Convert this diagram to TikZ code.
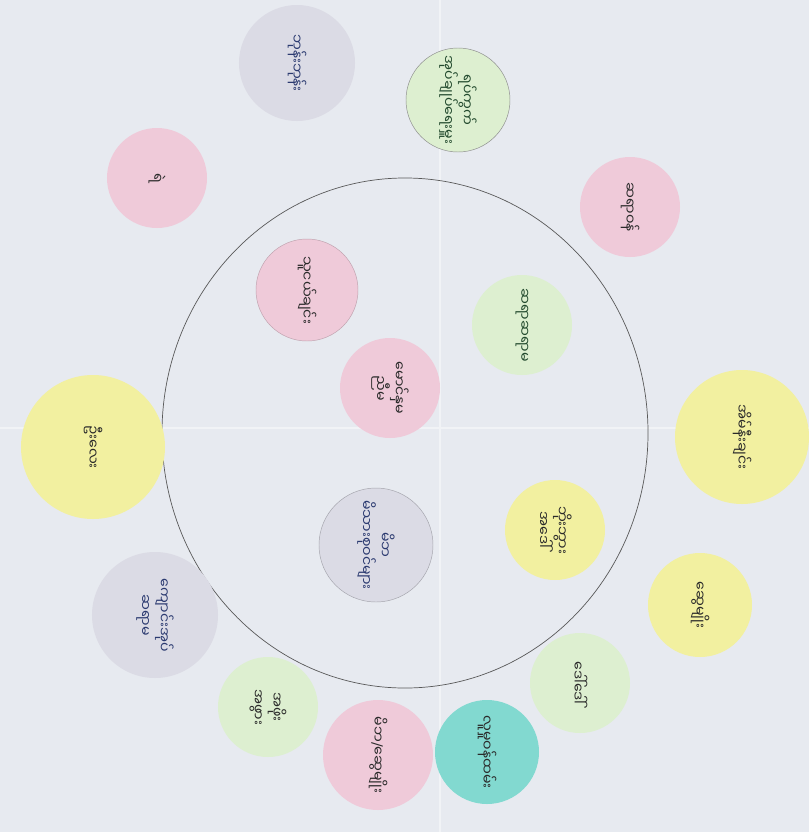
\documentclass[tikz,border=0pt]{standalone}
\usepackage{fontspec}
\newfontfamily\mya[Script=Myanmar]{Noto Sans Myanmar UI}
\newfontfamily\latn{DejaVu Sans}
\definecolor{paper}{HTML}{E7EAF0}
\definecolor{pinkc}{HTML}{EFCAD9}
\definecolor{greenc}{HTML}{DDEFD0}
\definecolor{yellowc}{HTML}{F2F0A0}
\definecolor{grayc}{HTML}{DBDBE5}
\definecolor{cyanc}{HTML}{82D9D0}
\definecolor{inkblue}{HTML}{2B3A70}
\definecolor{inkgreen}{HTML}{234A2E}
\definecolor{inkdark}{HTML}{2A2A2A}
\begin{document}
\begin{tikzpicture}[x=0.03cm,y=-0.03cm,
    disc/.style={circle,inner sep=0pt,align=center,rotate=-90,
      font=\mya\fontsize{12}{16}\selectfont,text=inkdark}]
  % paper
  \fill[paper] (0,0) rectangle (809,832);
  \useasboundingbox (0,0) rectangle (809,832);
  \draw[paper!60!white,line width=1pt] (440,0) -- (440,832); % fold
  \draw[paper!60!white,line width=1pt] (0,428) -- (809,428); % fold
  % big ring
  \coordinate (ringc) at (405,433);
  \draw[black!65,line width=0.6pt] (ringc) ellipse [x radius=7.29cm, y radius=7.65cm];
  % outer circles
  \node[disc,fill=grayc,minimum size=3.48cm,text=inkblue] (monk) at (297,63) {ဘုန်းဘုန်း};
  \node[disc,fill=greenc,draw=black!45,minimum size=3.12cm,text=inkgreen] (ward) at (458,100) {ရပ်ကွက်\\အုပ်ချုပ်ရေးမှူး};
  \node[disc,fill=pinkc,minimum size=3cm] (police) at (157,178) {ရဲ};
  \node[disc,fill=pinkc,minimum size=3cm] (doctor) at (630,207) {ဆရာဝန်};
  \node[disc,fill=yellowc,minimum size=4.32cm] (uncle) at (93,447) {ဦးလေး};
  \node[disc,fill=yellowc,minimum size=4.02cm] (neigh) at (742,437) {အိမ်နီးချင်း};
  \node[disc,fill=yellowc,minimum size=3.12cm] (kin) at (700,605) {ဆွေမျိုး};
  \node[disc,fill=grayc,minimum size=3.78cm,text=inkblue] (head) at (155,615) {ကျောင်းအုပ်\\ဆရာမ};
  \node[disc,fill=greenc,minimum size=3cm] (aunt) at (580,683) {ဒေါ်ဒေါ်};
  \node[disc,fill=greenc,minimum size=3cm] (elder) at (268,707) {အဖိုး\\အဖွား};
  \node[disc,fill=pinkc,minimum size=3.3cm] (parent) at (378,755) {မိဘ{\latn/}ဆွေမျိုး};
  \node[disc,fill=cyanc,minimum size=3.12cm] (social) at (487,752) {လူမှုဝန်ထမ်း};
  % inner circles
  \node[disc,fill=pinkc,draw=pinkc!80!black,minimum size=3.06cm] (friend) at (307,290) {သူငယ်ချင်း};
  \node[disc,fill=greenc,minimum size=3cm,text=inkgreen] (teacher) at (522,325) {ဆရာဆရာမ};
  \node[disc,fill=pinkc,minimum size=3cm] (sibling) at (390,388) {မောင်နှမ\\ညီမ};
  \node[disc,fill=grayc,draw=grayc!75!black,minimum size=3.42cm,text=inkblue] (family) at (376,545) {မိဘ\\မိသားစုဝင်များ};
  \node[disc,fill=yellowc,minimum size=3cm] (grand) at (555,530) {ဘိုးဘွား\\အဒေါ်};
\end{tikzpicture}
\end{document}
